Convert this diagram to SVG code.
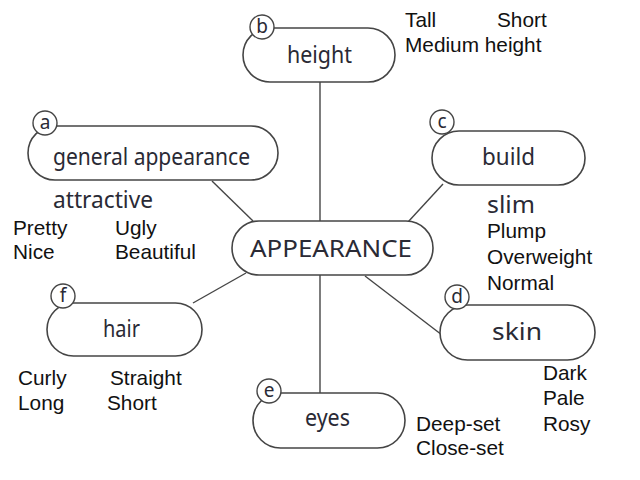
<svg xmlns="http://www.w3.org/2000/svg" width="640" height="480" viewBox="0 0 640 480">
<style>
.pill{fill:#fff;stroke:#454545;stroke-width:1.6}
.tag{fill:#fff;stroke:#454545;stroke-width:1.4}
.hw{font-family:"Noto Sans","DejaVu Sans",sans-serif;fill:#2a2a35;font-size:23px}
.ltr{font-family:"Noto Sans","DejaVu Sans",sans-serif;fill:#2a2a35;font-size:19px;text-anchor:middle}
.w{font-family:"Liberation Sans",Arial,sans-serif;fill:#111;font-size:20.8px}
.conn line{stroke:#454545;stroke-width:1.4}
</style>
<rect width="640" height="480" fill="#fff"/>
<g id="connectors" class="conn">
<line x1="320" y1="82" x2="320" y2="221"/>
<line x1="212" y1="181" x2="253" y2="221"/>
<line x1="443" y1="184" x2="408" y2="222"/>
<line x1="193" y1="303" x2="246" y2="273"/>
<line x1="365" y1="276" x2="442" y2="335"/>
<line x1="320" y1="275" x2="320" y2="393"/>
</g>
<g id="node-height">
<rect class="pill" x="243" y="28" width="152" height="54" rx="27"/>
<circle class="tag" cx="262" cy="27" r="12"/>
<text class="ltr" x="262" y="33">b</text>
<text class="hw" x="287" y="63" textLength="65" lengthAdjust="spacingAndGlyphs">height</text>
</g>
<g id="node-general">
<rect class="pill" x="28" y="126" width="250" height="54" rx="27"/>
<circle class="tag" cx="45" cy="123" r="12"/>
<text class="ltr" x="45" y="129">a</text>
<text class="hw" x="53" y="165" textLength="197" lengthAdjust="spacingAndGlyphs">general appearance</text>
</g>
<g id="node-build">
<rect class="pill" x="432" y="131" width="153" height="54" rx="27"/>
<circle class="tag" cx="442" cy="122" r="12"/>
<text class="ltr" x="442" y="128">c</text>
<text class="hw" x="482" y="165" textLength="53" lengthAdjust="spacingAndGlyphs">build</text>
</g>
<g id="node-appearance">
<rect class="pill" x="232" y="221" width="201" height="54" rx="27"/>
<text class="hw" x="250" y="257" textLength="162" lengthAdjust="spacingAndGlyphs">APPEARANCE</text>
</g>
<g id="node-hair">
<rect class="pill" x="47" y="303" width="155" height="53" rx="26.5"/>
<circle class="tag" cx="63" cy="296" r="12"/>
<text class="ltr" x="63" y="302">f</text>
<text class="hw" x="103" y="337" textLength="37" lengthAdjust="spacingAndGlyphs">hair</text>
</g>
<g id="node-skin">
<rect class="pill" x="440" y="305" width="155" height="55" rx="27.5"/>
<circle class="tag" cx="457" cy="297" r="12"/>
<text class="ltr" x="457" y="303">d</text>
<text class="hw" x="492" y="340" textLength="50" lengthAdjust="spacingAndGlyphs">skin</text>
</g>
<g id="node-eyes">
<rect class="pill" x="253" y="393" width="152" height="55" rx="27.5"/>
<circle class="tag" cx="269" cy="391" r="12"/>
<text class="ltr" x="269" y="397">e</text>
<text class="hw" x="305" y="426" textLength="45" lengthAdjust="spacingAndGlyphs">eyes</text>
</g>
<g id="words">
<text class="hw" x="53" y="208" textLength="100" lengthAdjust="spacingAndGlyphs">attractive</text>
<text class="hw" x="487" y="213" textLength="48" lengthAdjust="spacingAndGlyphs">slim</text>
<text class="w" x="405" y="27">Tall</text>
<text class="w" x="497" y="27">Short</text>
<text class="w" x="405" y="52">Medium height</text>
<text class="w" x="13" y="235">Pretty</text>
<text class="w" x="115" y="235">Ugly</text>
<text class="w" x="13" y="259">Nice</text>
<text class="w" x="115" y="259">Beautiful</text>
<text class="w" x="487" y="238">Plump</text>
<text class="w" x="487" y="264">Overweight</text>
<text class="w" x="487" y="290">Normal</text>
<text class="w" x="18" y="385">Curly</text>
<text class="w" x="110" y="385">Straight</text>
<text class="w" x="18" y="410">Long</text>
<text class="w" x="107" y="410">Short</text>
<text class="w" x="543" y="380">Dark</text>
<text class="w" x="543" y="405">Pale</text>
<text class="w" x="543" y="431">Rosy</text>
<text class="w" x="416" y="431">Deep-set</text>
<text class="w" x="416" y="455">Close-set</text>
</g>
</svg>
